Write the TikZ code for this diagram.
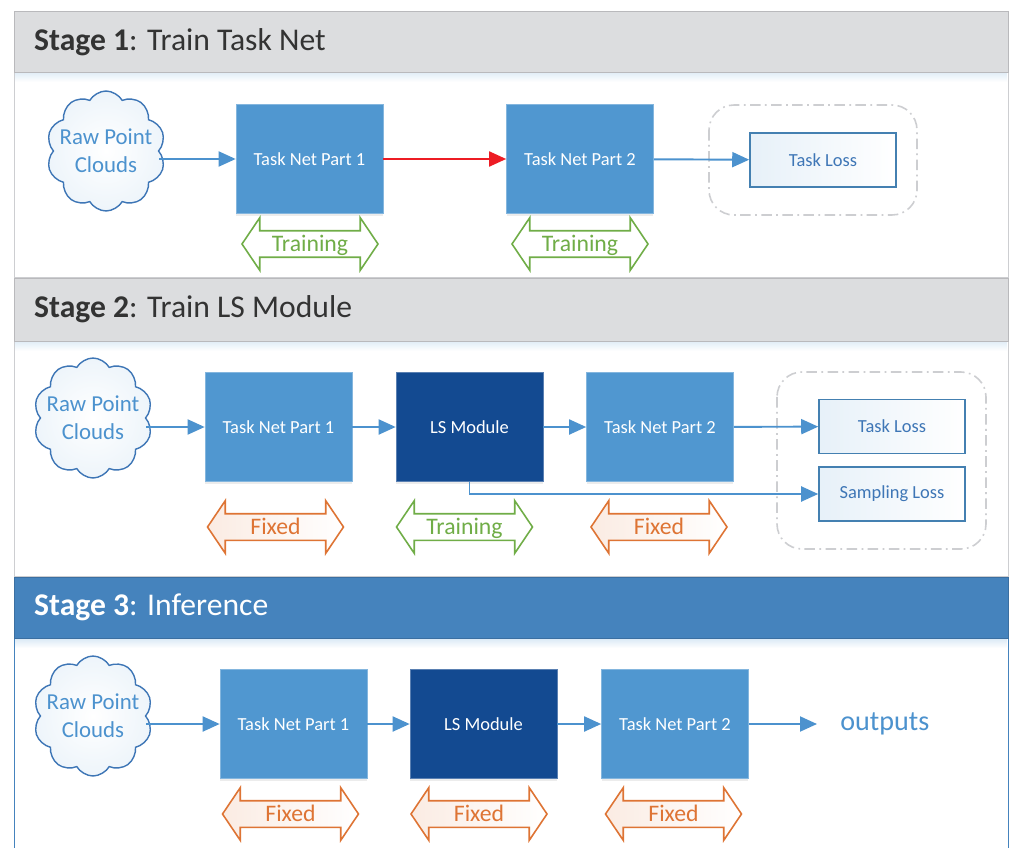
\documentclass[tikz,border=0pt]{standalone}
\usepackage{fontspec}
\setmainfont{Carlito}
\usetikzlibrary{positioning,arrows.meta,shapes.symbols,shapes.arrows,shadows}
\definecolor{netblue}{RGB}{80,151,208}
\definecolor{lsblue}{RGB}{19,74,145}
\definecolor{linkblue}{RGB}{76,146,206}
\definecolor{headgray}{RGB}{220,221,223}
\definecolor{headblue}{RGB}{69,131,189}
\definecolor{framegray}{RGB}{205,206,209}
\definecolor{traingreen}{RGB}{112,173,71}
\definecolor{fixorange}{RGB}{222,116,52}
\definecolor{losstext}{RGB}{62,118,182}
\definecolor{hotred}{RGB}{237,28,36}
\tikzset{
  net/.style={draw=netblue!70!white,fill=netblue,text=white,line width=0.4pt,
    minimum width=2.94cm,minimum height=2.18cm,font=\fontsize{10.5}{12}\selectfont,
    drop shadow={shadow xshift=0pt,shadow yshift=-1.2pt,opacity=0.15}},
  ls/.style={net,fill=lsblue,draw=lsblue!70!white},
  loss/.style={draw=netblue!85!black,line width=0.9pt,left color=netblue!14,right color=white,
    text=losstext,minimum width=2.92cm,minimum height=1.08cm,font=\fontsize{10.5}{12}\selectfont},
  pc/.style={cloud,cloud puffs=10,cloud puff arc=120,aspect=1,draw=losstext,line width=0.8pt,
    inner color=white,outer color=netblue!10,minimum width=2.38cm,minimum height=2.4cm,inner sep=0pt},
  pctext/.style={text=linkblue,align=center,font=\fontsize{13}{16}\selectfont},
  mode/.style={double arrow,double arrow head extend=0.26cm,double arrow tip angle=112,
    minimum height=2.72cm,inner sep=0pt,text height=0.4cm,text depth=0.1cm,line width=0.9pt,
    font=\fontsize{13.5}{14}\selectfont},
  train/.style={mode,draw=traingreen,fill=white,text=traingreen},
  fix/.style={mode,draw=fixorange,left color=fixorange!14,right color=white,text=fixorange},
  arr/.style={-{Triangle[length=0.34cm,width=0.3cm]},line width=1.1pt,draw=linkblue},
  lossgroup/.style={draw=framegray,line width=0.9pt,rounded corners=0.5cm,
    dash pattern=on 6pt off 2.5pt on 1pt off 2.5pt},
  title/.style={anchor=west,text=black!80,font=\fontsize{18}{20}\selectfont}
}
\begin{document}
\begin{tikzpicture}[x=0.02cm,y=-0.02cm]
  \useasboundingbox (0,0) rectangle (1011,848);
  \fill[white] (0,0) rectangle (1011,848);

  % stage frames
  \draw[framegray,fill=white] (14,72) rectangle (1008,277);
  \draw[framegray,fill=white] (14,341) rectangle (1008,576);
  \draw[headblue,fill=white] (14,638) -- (14,850) (1008,638) -- (1008,850);
  \shade[top color=netblue!18,bottom color=white] (15,72) rectangle (1007,82);
  \shade[top color=netblue!18,bottom color=white] (15,341) rectangle (1007,351);
  \shade[top color=netblue!22,bottom color=white] (15,638) rectangle (1007,648);
  \draw[framegray!90!black,fill=headgray] (14,11) rectangle (1008,72);
  \draw[framegray!90!black,fill=headgray] (14,278) rectangle (1008,341);
  \draw[headblue!85!black,fill=headblue] (14,577) rectangle (1008,638);
  \node[title] (st1) at (28,42) {\textbf{Stage 1}: Train Task Net};
  \node[title] (st2) at (28,309) {\textbf{Stage 2}: Train LS Module};
  \node[title,text=white] (st3) at (28,607) {\textbf{Stage 3}: Inference};

  % stage 1
  \node[pc,label={[pctext]center:{Raw Point\\Clouds}}] (pc1) at (106,151) {};
  \node[net] (tn1a) at (309.5,159) {Task Net Part 1};
  \node[net] (tn2a) at (580,159) {Task Net Part 2};
  \draw[lossgroup] (709,105) rectangle (917,215);
  \node[loss] (loss1) at (823,160) {Task Loss};
  \node[train] (tr1a) at (310,244) {Training};
  \node[train] (tr2a) at (580,244) {Training};
  \draw[arr] (pc1.east |- tn1a) -- (tn1a);
  \draw[arr,draw=hotred] (tn1a) -- (tn2a);
  \draw[arr] (tn2a) -- (loss1);

  % stage 2
  \node[pc,label={[pctext]center:{Raw Point\\Clouds}}] (pc2) at (93,418) {};
  \node[net] (tn1b) at (278.5,427) {Task Net Part 1};
  \node[ls] (ls2) at (469.5,427) {LS Module};
  \node[net] (tn2b) at (660,427) {Task Net Part 2};
  \draw[lossgroup] (777,372) rectangle (986,549);
  \node[loss] (loss2) at (892,426.5) {Task Loss};
  \node[loss] (samp2) at (892,494) {Sampling Loss};
  \node[fix] (fx1b) at (275.5,527) {Fixed};
  \node[train] (tr2b) at (464.5,527) {Training};
  \node[fix] (fx2b) at (659,527) {Fixed};
  \draw[arr] (pc2.east |- tn1b) -- (tn1b);
  \draw[arr] (tn1b) -- (ls2);
  \draw[arr] (ls2) -- (tn2b);
  \draw[arr] (tn2b) -- (loss2);
  \draw[arr] (ls2.south) |- (samp2.west);

  % stage 3
  \node[pc,label={[pctext]center:{Raw Point\\Clouds}}] (pc3) at (93,716) {};
  \node[net] (tn1c) at (293.5,724) {Task Net Part 1};
  \node[ls] (ls3) at (483.5,724) {LS Module};
  \node[net] (tn2c) at (675,724) {Task Net Part 2};
  \node[anchor=west,text=linkblue,font=\fontsize{16}{18}\selectfont,inner xsep=0.46cm] (out3) at (817,724) {outputs};
  \node[fix] (fx1c) at (290.5,814) {Fixed};
  \node[fix] (fx2c) at (479,814) {Fixed};
  \node[fix] (fx3c) at (673.5,814) {Fixed};
  \draw[arr] (pc3.east |- tn1c) -- (tn1c);
  \draw[arr] (tn1c) -- (ls3);
  \draw[arr] (ls3) -- (tn2c);
  \draw[arr] (tn2c) -- (out3);
\end{tikzpicture}
\end{document}
